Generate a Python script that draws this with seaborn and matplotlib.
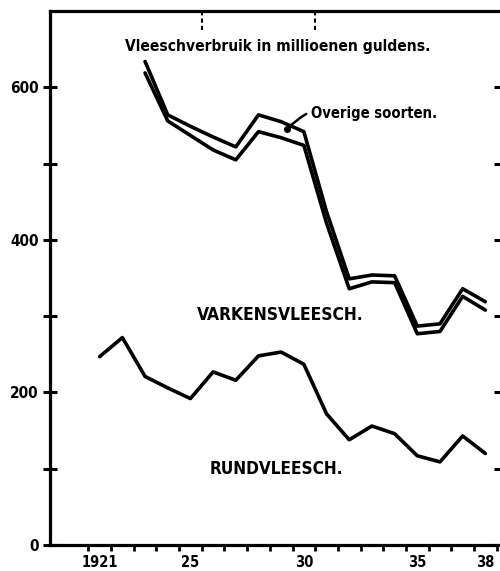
import numpy as np
import pandas as pd
import matplotlib.pyplot as plt
import seaborn as sns
from matplotlib.ticker import FixedLocator, FixedFormatter, NullFormatter

# values in millions of guilders
years = list(range(1921, 1939))
rund = [247, 272, 221, 206, 192, 227, 216, 248, 253, 237, 172, 138, 156, 146, 117, 109, 143, 120]

pork_years = list(range(1923, 1939))
varkens = [619, 556, 537, 518, 505, 542, 534, 524, 422, 336, 345, 344, 277, 280, 326, 308]
met_overige = [634, 564, 549, 535, 522, 564, 555, 542, 437, 349, 354, 353, 287, 290, 336, 319]

y_ticks = [0, 100, 200, 300, 400, 500, 600]
y_labels = ["0", "", "200", "", "400", "", "600"]
x_label_years = [1921, 1925, 1930, 1935, 1938]
x_labels = ["1921", "25", "30", "35", "38"]


def main():
    sns.set_style("white")
    plt.rcParams["font.family"] = ["DejaVu Sans"]
    plt.rcParams["font.stretch"] = "condensed"
    plt.rcParams["font.weight"] = "bold"
    plt.rcParams["text.color"] = "black"
    plt.rcParams["xtick.color"] = "black"
    plt.rcParams["ytick.color"] = "black"

    df = pd.concat([
        pd.DataFrame({"jaar": years, "waarde": rund, "soort": "rund"}),
        pd.DataFrame({"jaar": pork_years, "waarde": varkens, "soort": "varkens"}),
        pd.DataFrame({"jaar": pork_years, "waarde": met_overige, "soort": "overige"}),
    ])

    fig = plt.figure(figsize=(5.0, 5.71), dpi=100)
    ax = fig.add_axes([0.1, 0.0455, 0.902, 0.935])

    sns.lineplot(data=df, x="jaar", y="waarde", units="soort", estimator=None,
                 color="black", lw=2.6, ax=ax, legend=False)

    ax.set_xlim(1918.81, 1938.69)
    ax.set_ylim(0, 700)
    ax.set_xlabel("")
    ax.set_ylabel("")

    for side in ["left", "bottom", "top"]:
        ax.spines[side].set_visible(True)
        ax.spines[side].set_color("black")
        ax.spines[side].set_linewidth(2.3)
    ax.spines["right"].set_visible(False)

    # marks at year boundaries, labels at year centres
    ax.xaxis.set_major_locator(FixedLocator(x_label_years))
    ax.xaxis.set_major_formatter(FixedFormatter(x_labels))
    ax.xaxis.set_minor_locator(FixedLocator(np.arange(1920.5, 1939, 1.0)))
    ax.xaxis.set_minor_formatter(NullFormatter())
    ax.tick_params(axis="x", which="major", length=0, pad=7, labelsize=10.5)
    ax.tick_params(axis="x", which="minor", direction="out", length=4, width=2,
                   color="black", bottom=True)

    ax.yaxis.set_major_locator(FixedLocator(y_ticks))
    ax.yaxis.set_major_formatter(FixedFormatter(y_labels))
    ax.tick_params(axis="y", which="major", direction="inout", length=10, width=2.2,
                   color="black", left=True, right=True, labelsize=11, pad=3)

    # little marks hanging from the top frame
    for xb in [1925.5, 1930.5]:
        ax.axvline(xb, ymin=0.965, ymax=1.0, color="black", lw=1.5, ls=(0, (2, 1.5)))

    ax.text(0.504, 0.933, "Vleeschverbruik in millioenen guldens.", transform=ax.transAxes,
            ha="center", va="center", fontsize=11.2, fontweight="bold")
    ax.text(0.510, 0.431, "VARKENSVLEESCH.", transform=ax.transAxes,
            ha="center", va="center", fontsize=12.5, fontweight="bold")
    ax.text(0.502, 0.142, "RUNDVLEESCH.", transform=ax.transAxes,
            ha="center", va="center", fontsize=12.3, fontweight="bold")

    ax.annotate("Overige soorten.", xy=(1929.24, 545), xytext=(1930.3, 566),
                ha="left", va="center", fontsize=10.6, fontweight="bold",
                arrowprops=dict(arrowstyle="-", lw=1.8, color="black",
                                connectionstyle="arc3,rad=0.35", shrinkA=1, shrinkB=0))
    ax.plot([1929.24], [545], "o", color="black", ms=4)

    fig.savefig("out.png", dpi=100)


if __name__ == "__main__":
    main()
